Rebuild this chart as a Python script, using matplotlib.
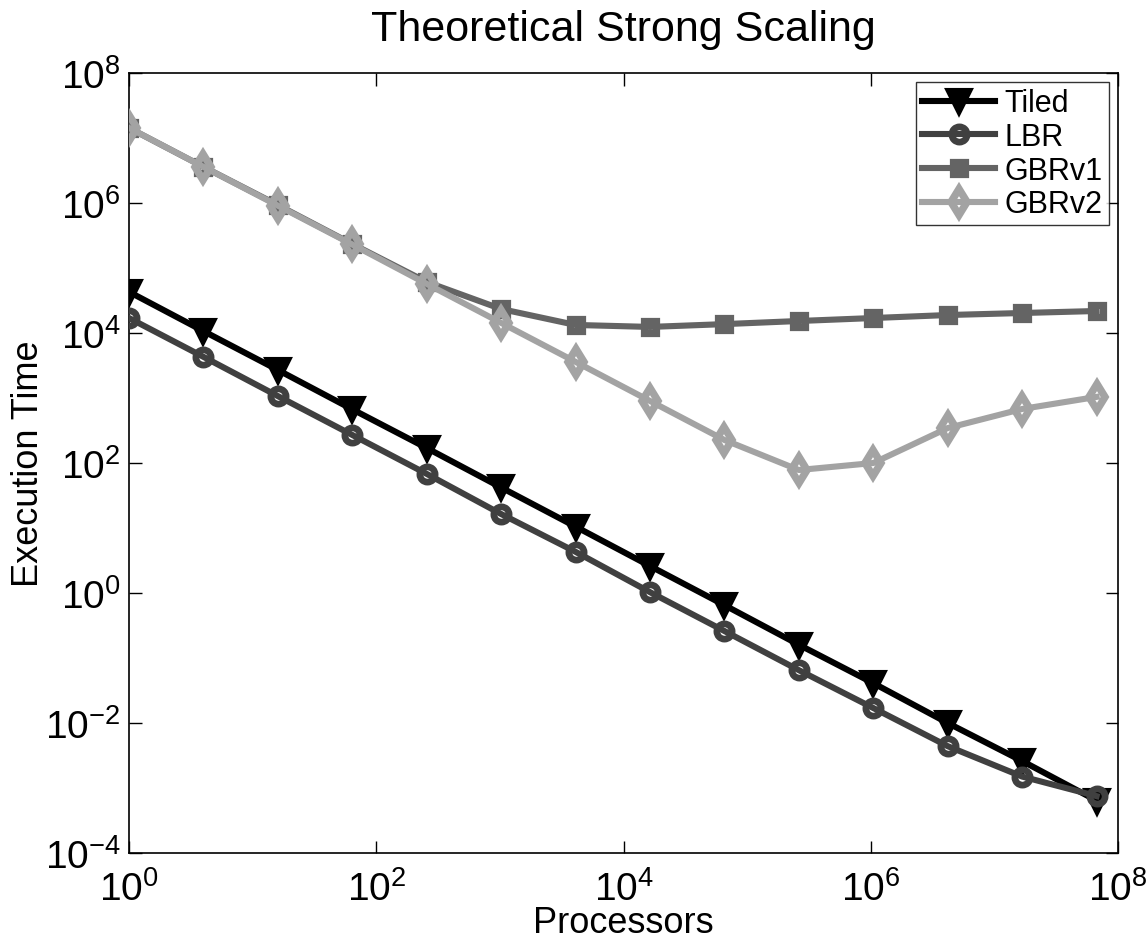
import matplotlib
matplotlib.use("Agg")
import matplotlib.pyplot as plt
from matplotlib.ticker import LogLocator, NullLocator, LogFormatterSciNotation

plt.rcParams['font.family'] = ['Liberation Sans', 'DejaVu Sans']
plt.rcParams['mathtext.fontset'] = 'custom'
plt.rcParams['mathtext.rm'] = 'Liberation Sans'
plt.rcParams['mathtext.it'] = 'Liberation Sans'
plt.rcParams['mathtext.default'] = 'regular'

processors = [1, 4, 16, 64, 256, 1024, 4096, 16384, 65536, 262144,
              1048576, 4194304, 16777216, 67108864]
tiled = [4.3e4, 1.07e4, 2.7e3, 6.7e2, 1.7e2, 42, 10.5, 2.6, 0.65, 0.16,
         0.041, 0.010, 2.6e-3, 6.4e-4]
lbr = [1.7e4, 4.3e3, 1.07e3, 270, 68, 16.4, 4.3, 1.03, 0.26, 0.065,
       0.017, 4.4e-3, 1.5e-3, 7.5e-4]
gbrv1 = [1.43e7, 3.6e6, 9.3e5, 2.34e5, 6.1e4, 2.34e4, 1.33e4, 1.24e4,
         1.37e4, 1.53e4, 1.7e4, 1.89e4, 2.03e4, 2.18e4]
gbrv2 = [1.43e7, 3.6e6, 9.1e5, 2.3e5, 5.7e4, 1.43e4, 3.6e3, 900, 226, 78,
         100, 345, 678, 1.04e3]

W, H = 1148, 945
fig = plt.figure(figsize=(W / 100, H / 100), dpi=100)
ax = fig.add_axes([129 / W, (H - 854) / H, (1118 - 129) / W, (854 - 74) / H])

lw = 4.4
ax.plot(processors, tiled, color='black', lw=lw, marker='v', ms=15,
        mfc='black', mec='black', mew=lw, label='Tiled', zorder=3)
ax.plot(processors, lbr, color='#404040', lw=lw, marker='o', ms=11,
        mfc='none', mec='#404040', mew=4.8, label='LBR', zorder=4)
ax.plot(processors, gbrv1, color='#646464', lw=lw, marker='s', ms=9,
        mfc='none', mec='#646464', mew=5.2, label='GBRv1', zorder=5)
ax.plot(processors, gbrv2, color='#a3a3a3', lw=lw, marker='d', ms=13,
        mfc='none', mec='#a3a3a3', mew=5.4, label='GBRv2', zorder=6)

ax.set_xscale('log')
ax.set_yscale('log')
ax.set_xlim(1, 1e8)
ax.set_ylim(1e-4, 1e8)
ax.xaxis.set_major_locator(LogLocator(base=100.0))
ax.yaxis.set_major_locator(LogLocator(base=100.0))
ax.xaxis.set_minor_locator(NullLocator())
ax.yaxis.set_minor_locator(NullLocator())
ax.xaxis.set_major_formatter(LogFormatterSciNotation())
ax.yaxis.set_major_formatter(LogFormatterSciNotation())
ax.tick_params(which='major', direction='in', length=9, width=1,
               top=True, right=True, labelsize=28)
ax.tick_params(axis='x', pad=12)
ax.tick_params(axis='y', pad=6)
for s in ax.spines.values():
    s.set_linewidth(1.2)

ax.set_title('Theoretical Strong Scaling', fontsize=31, pad=24)
ax.set_xlabel('Processors', fontsize=26)
ax.xaxis.set_label_coords(0.5, (854 - 906) / 780)
ax.set_ylabel('Execution Time', fontsize=26)
ax.yaxis.set_label_coords((46 - 129) / 989, 0.5)

leg = ax.legend(loc='upper right', fontsize=22, frameon=True, fancybox=False,
                edgecolor='black', handlelength=2.4, labelspacing=0.12,
                borderpad=0.2, handletextpad=0.3, borderaxespad=0.3,
                markerscale=1.0)
leg.get_frame().set_linewidth(1.0)

fig.savefig('out.png', dpi=100, facecolor='white')
